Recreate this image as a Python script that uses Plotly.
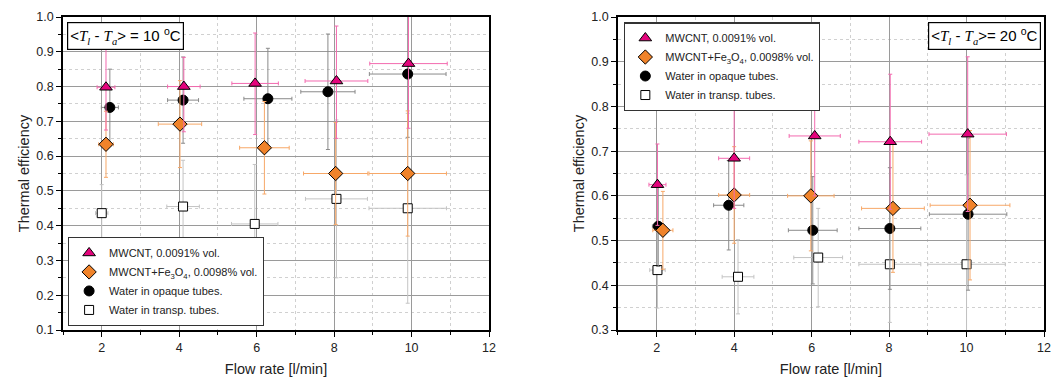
import plotly.graph_objects as go
from plotly.subplots import make_subplots

# ---------------- data: <Tl - Ta> = 10 C (left) ----------------
mw_x_L = [2.11, 4.12, 5.96, 8.06, 9.92]
mw_y_L = [0.798, 0.800, 0.809, 0.816, 0.866]
mw_eyp_L = [0.120, 0.084, 0.145, 0.158, 0.190]
mw_eym_L = [0.123, 0.130, 0.147, 0.165, 0.186]
mw_ex_L = [0.23, 0.42, 0.60, 0.81, 1.00]

fe_x_L = [2.11, 4.02, 6.20, 8.04, 9.90]
fe_y_L = [0.634, 0.692, 0.624, 0.550, 0.550]
fe_ey_L = [0.095, 0.125, 0.133, 0.147, 0.180]
fe_ex_L = [0.19, 0.56, 0.64, 0.83, 1.00]

wo_x_L = [2.21, 4.10, 6.29, 7.84, 9.90]
wo_y_L = [0.740, 0.761, 0.765, 0.785, 0.836]
wo_ey_L = [0.110, 0.124, 0.145, 0.166, 0.182]
wo_ex_L = [0.22, 0.40, 0.62, 0.70, 0.99]

wt_x_L = [2.00, 4.10, 5.95, 8.06, 9.90]
wt_y_L = [0.436, 0.455, 0.405, 0.477, 0.450]
wt_ey_L = [0.082, 0.133, 0.171, 0.227, 0.273]
wt_ex_L = [0.16, 0.42, 0.60, 0.80, 1.00]

# ---------------- data: <Tl - Ta> = 20 C (right) ----------------
mw_x_R = [2.02, 4.00, 6.08, 8.03, 10.03]
mw_y_R = [0.625, 0.684, 0.734, 0.721, 0.738]
mw_ey_R = [0.091, 0.112, 0.134, 0.151, 0.173]
mw_ex_R = [0.22, 0.40, 0.66, 0.81, 1.00]

fe_x_R = [2.16, 4.00, 5.98, 8.10, 10.09]
fe_y_R = [0.523, 0.602, 0.600, 0.572, 0.579]
fe_ey_R = [0.087, 0.108, 0.123, 0.143, 0.167]
fe_ex_R = [0.26, 0.40, 0.60, 0.81, 1.03]

wo_x_R = [2.04, 3.86, 6.03, 8.02, 10.04]
wo_y_R = [0.532, 0.579, 0.523, 0.527, 0.559]
wo_ey_R = [0.090, 0.100, 0.120, 0.136, 0.170]
wo_ex_R = [0.15, 0.39, 0.63, 0.80, 1.00]

wt_x_R = [2.02, 4.10, 6.17, 8.02, 10.00]
wt_y_R = [0.434, 0.419, 0.462, 0.447, 0.447]
wt_ey_R = [0.085, 0.083, 0.110, 0.130, 0.200]
wt_ex_R = [0.20, 0.41, 0.63, 0.80, 1.00]

names = ["MWCNT, 0.0091% vol.",
         "MWCNT+Fe<sub>3</sub>O<sub>4</sub>, 0.0098% vol.",
         "Water in opaque tubes.",
         "Water in transp. tubes."]

FONT = "Liberation Sans, Arial, sans-serif"
SERIF = "Liberation Serif, Times New Roman, serif"

fig = make_subplots(rows=1, cols=2, horizontal_spacing=0.1314)


def add(x, y, ex, ey, name, symbol, color, lcolor, ecolor, size, col, legend, eym=None):
    ey_d = dict(type="data", array=ey, color=ecolor, thickness=1, width=2, visible=True)
    if eym is not None:
        ey_d["symmetric"] = False
        ey_d["arrayminus"] = eym
    fig.add_trace(go.Scatter(
        x=x, y=y, mode="markers", name=name, legend=legend,
        marker=dict(symbol=symbol, size=size, color=color,
                    line=dict(color=lcolor, width=1)),
        error_x=dict(type="data", array=ex, color=ecolor, thickness=1, width=2),
        error_y=ey_d,
    ), row=1, col=col)


for col, lg, D in [
    (1, "legend", dict(mw=(mw_x_L, mw_y_L, mw_ex_L, mw_eyp_L, mw_eym_L),
                       fe=(fe_x_L, fe_y_L, fe_ex_L, fe_ey_L),
                       wo=(wo_x_L, wo_y_L, wo_ex_L, wo_ey_L),
                       wt=(wt_x_L, wt_y_L, wt_ex_L, wt_ey_L))),
    (2, "legend2", dict(mw=(mw_x_R, mw_y_R, mw_ex_R, mw_ey_R, None),
                        fe=(fe_x_R, fe_y_R, fe_ex_R, fe_ey_R),
                        wo=(wo_x_R, wo_y_R, wo_ex_R, wo_ey_R),
                        wt=(wt_x_R, wt_y_R, wt_ex_R, wt_ey_R))),
]:
    x, y, ex, ey = D["wt"]
    add(x, y, ex, ey, names[3], "square", "white", "black", "#c4c4c4", 9, col, lg)
    x, y, ex, ey = D["wo"]
    add(x, y, ex, ey, names[2], "circle", "black", "black", "#8a8a8a", 10, col, lg)
    x, y, ex, ey = D["fe"]
    add(x, y, ex, ey, names[1], "diamond", "#f0832a", "black", "#f7a868", 11, col, lg)
    x, y, ex, eyp, eym = D["mw"]
    add(x, y, ex, eyp, names[0], "triangle-up", "#e4047c", "black", "#f36aaf", 11, col, lg, eym)

axis_common = dict(
    showline=True, linecolor="black", linewidth=1.5, mirror=True,
    ticks="outside", ticklen=5, tickwidth=1.2, tickcolor="black",
    showgrid=True, gridcolor="#9a9a9a", gridwidth=1.3,
    tickfont=dict(family=FONT, size=12.5, color="#222"),
    zeroline=False, automargin=False,
)
minor_common = dict(tick0=0, showgrid=True, gridcolor="#d0d0d0", griddash="dot",
                    gridwidth=1, ticks="outside", ticklen=3, tickcolor="black")
title_font = dict(family=FONT, size=14.5, color="#222")

for col in (1, 2):
    fig.update_xaxes(range=[1, 12], dtick=2, tick0=0,
                     minor=dict(dtick=1, **minor_common),
                     title=dict(text="Flow rate [l/min]", font=title_font, standoff=10),
                     row=1, col=col, **axis_common)

fig.update_yaxes(range=[0.1, 1.0], dtick=0.1, tick0=0, tickformat=".1f",
                 minor=dict(dtick=0.05, **minor_common),
                 title=dict(text="Thermal efficiency", font=title_font, standoff=3),
                 row=1, col=1, **axis_common)
fig.update_yaxes(range=[0.3, 1.0], dtick=0.1, tick0=0, tickformat=".1f",
                 minor=dict(dtick=0.05, **minor_common),
                 title=dict(text="Thermal efficiency", font=title_font, standoff=3),
                 row=1, col=2, **axis_common)

leg_common = dict(bgcolor="white", bordercolor="#333", borderwidth=1.2,
                  font=dict(family=FONT, size=11, color="#222"),
                  traceorder="reversed", xanchor="left",
                  itemwidth=30, tracegroupgap=0)

fig.update_layout(
    width=1063, height=378,
    margin=dict(l=63, r=19, t=17, b=48, autoexpand=False),
    paper_bgcolor="white", plot_bgcolor="white",
    showlegend=True,
    legend=dict(x=0.005, y=0.012, yanchor="bottom", **leg_common),
    legend2=dict(x=0.572, y=0.983, yanchor="top", **leg_common),
    font=dict(family=FONT),
)


def tl_ta(val, eq):
    T = '<span style="font-family:%s"><i>T</i></span>' % SERIF
    l = '<span style="font-family:%s"><i>l</i></span>' % SERIF
    a = '<span style="font-family:%s"><i>a</i></span>' % SERIF
    return "&lt;%s<sub>%s</sub> - %s<sub>%s</sub>&gt;%s%s <sup>o</sup>C" % (T, l, T, a, eq, val)


fig.add_annotation(text=tl_ta("10", " = "), xref="x domain", yref="y domain", x=0.009, y=0.985,
                   xanchor="left", yanchor="top", showarrow=False,
                   font=dict(family=FONT, size=15, color="black"),
                   bgcolor="white", bordercolor="black", borderwidth=1.2, borderpad=2)
fig.add_annotation(text=tl_ta("20", "= "), xref="x2 domain", yref="y2 domain", x=0.992, y=0.985,
                   xanchor="right", yanchor="top", showarrow=False,
                   font=dict(family=FONT, size=15, color="black"),
                   bgcolor="white", bordercolor="black", borderwidth=1.2, borderpad=2)

fig.write_html("out.html", config={"displayModeBar": False},
               post_script="document.body.style.margin='0';document.body.style.padding='0';")
